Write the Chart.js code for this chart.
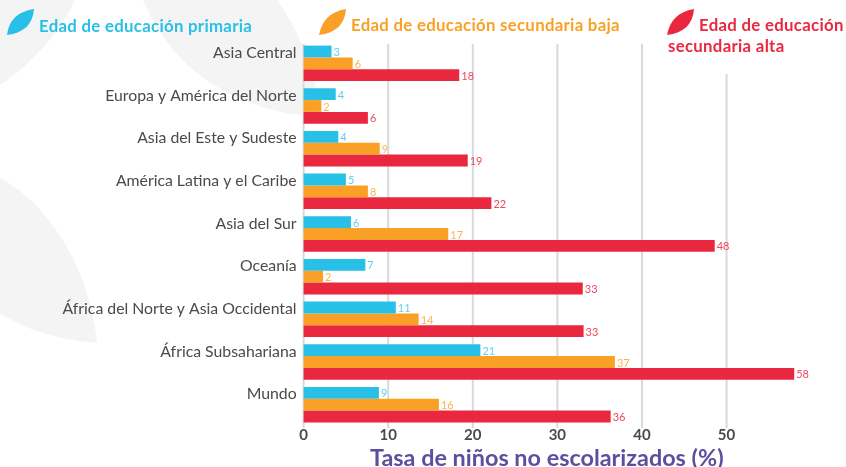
<!DOCTYPE html>
<html><head><meta charset="utf-8">
<script src="https://cdn.jsdelivr.net/npm/chart.js@4"></script>
<style>
html,body{margin:0;padding:0;background:#fff;width:846px;height:467px;overflow:hidden;font-family:Lato,sans-serif}
#bg{position:absolute;left:0;top:0}
#wrap{position:absolute;left:0;top:0;width:846px;height:467px}
.lg{position:absolute;font-weight:700;font-size:16.8px;line-height:21px;letter-spacing:.3px;white-space:nowrap}
</style></head><body>
<svg id="bg" width="846" height="467">
<path fill="#f4f4f5" d="M0 0H75C58 35 30 65 0 85Z"/>
<path fill="#f4f4f5" d="M143 0H277C305 40 318 80 319 117C240 112 175 75 143 0Z"/>
<path fill="#f4f4f5" d="M0 178C50 205 90 270 97 343C60 340 25 330 0 313Z"/>
</svg>
<div id="wrap"><canvas id="c" width="846" height="467"></canvas></div>
<div class="lg" style="left:39px;top:15px;color:#29c0e7">Edad de educación primaria</div>
<div class="lg" style="left:351px;top:14px;color:#fba026">Edad de educación secundaria baja</div>
<div class="lg" style="left:668px;top:14px;color:#e92840"><span style="margin-left:31px">Edad de educación</span><br>secundaria alta</div>
<svg style="position:absolute;left:0;top:0" width="846" height="60">
<path fill="#29c0e7" d="M7 35C9 20 17 12 34 9C33 24 24 33 7 35Z"/>
<path fill="#fba026" d="M319 35C322 20 330 12 346 9C345 24 336 33 319 35Z"/>
<path fill="#e92840" d="M667 35C670 20 678 12 694 9C693 24 684 33 667 35Z"/>
</svg>
<script>
const categories=["Asia Central","Europa y América del Norte","Asia del Este y Sudeste","América Latina y el Caribe","Asia del Sur","Oceanía","África del Norte y Asia Occidental","África Subsahariana","Mundo"];
const primaria=[3.3,3.8,4.1,5,5.6,7.3,10.9,20.9,8.9];
const secBaja=[5.8,2.1,9,7.6,17.1,2.3,13.6,36.8,16];
const secAlta=[18.4,7.6,19.4,22.2,48.6,33,33.1,58,36.3];
const primariaLabels=["3","4","4","5","6","7","11","21","9"];
const secBajaLabels=["6","2","9","8","17","2","14","37","16"];
const secAltaLabels=["18","6","19","22","48","33","33","58","36"];
const seriesLabels=[primariaLabels,secBajaLabels,secAltaLabels];
const labelColors=["#5fd0ee","#fcb453","#ee4a60"];
const gridTicks=[0,10,20,30,40,50];
const valueLabels={id:"valueLabels",afterDatasetsDraw(ch){
  const g=ch.ctx;g.save();g.font="11px Lato";g.textBaseline="middle";g.textAlign="left";
  ch.data.datasets.forEach((d,i)=>{ch.getDatasetMeta(i).data.forEach((b,j)=>{
    g.fillStyle=labelColors[i];g.fillText(seriesLabels[i][j],b.x+2,b.y+1);});});
  g.restore();}};
const grid={id:"gridBars",beforeDatasetsDraw(ch){
  const g=ch.ctx,x=ch.scales.x;g.save();g.strokeStyle="#d9d9d9";g.lineWidth=2;
  gridTicks.forEach(t=>{const px=x.getPixelForValue(t);
    g.beginPath();g.moveTo(px,t===50?74:44);g.lineTo(px,428);g.stroke();});
  g.restore();}};
new Chart(document.getElementById("c"),{type:"bar",
 data:{labels:categories,datasets:[
  {label:"Edad de educación primaria",data:primaria,backgroundColor:"#29c0e7",clip:false},
  {label:"Edad de educación secundaria baja",data:secBaja,backgroundColor:"#fba026",clip:false},
  {label:"Edad de educación secundaria alta",data:secAlta,backgroundColor:"#e92840",clip:false}]},
 plugins:[grid,valueLabels],
 options:{indexAxis:"y",responsive:false,animation:false,
  layout:{padding:{top:42,left:0,right:56,bottom:0}},
  datasets:{bar:{categoryPercentage:.832,barPercentage:1}},
  plugins:{legend:{display:false},tooltip:{enabled:false}},
  scales:{
   x:{min:0,max:57.5,afterFit(s){s.height=41;},
      afterBuildTicks(s){s.ticks=gridTicks.map(v=>({value:v}));},
      grid:{display:false,drawTicks:false,tickLength:0},border:{display:false},
      ticks:{color:"#4a4a4a",font:{family:"Lato",size:15,weight:"bold"},padding:0,maxRotation:0},
      title:{display:true,text:"Tasa de niños no escolarizados (%)",color:"#5c4f9f",font:{family:"Lato",size:23.4,weight:"bold"},padding:{top:0,bottom:-5}}},
   y:{afterFit(s){s.width=303.6;},grid:{display:false,drawTicks:false,tickLength:0},border:{display:false},
      ticks:{color:"#4a4a4a",font:{family:"Lato",size:15.8},padding:7,autoSkip:false,labelOffset:-10.6}}
  }}});
</script>
</body></html>
